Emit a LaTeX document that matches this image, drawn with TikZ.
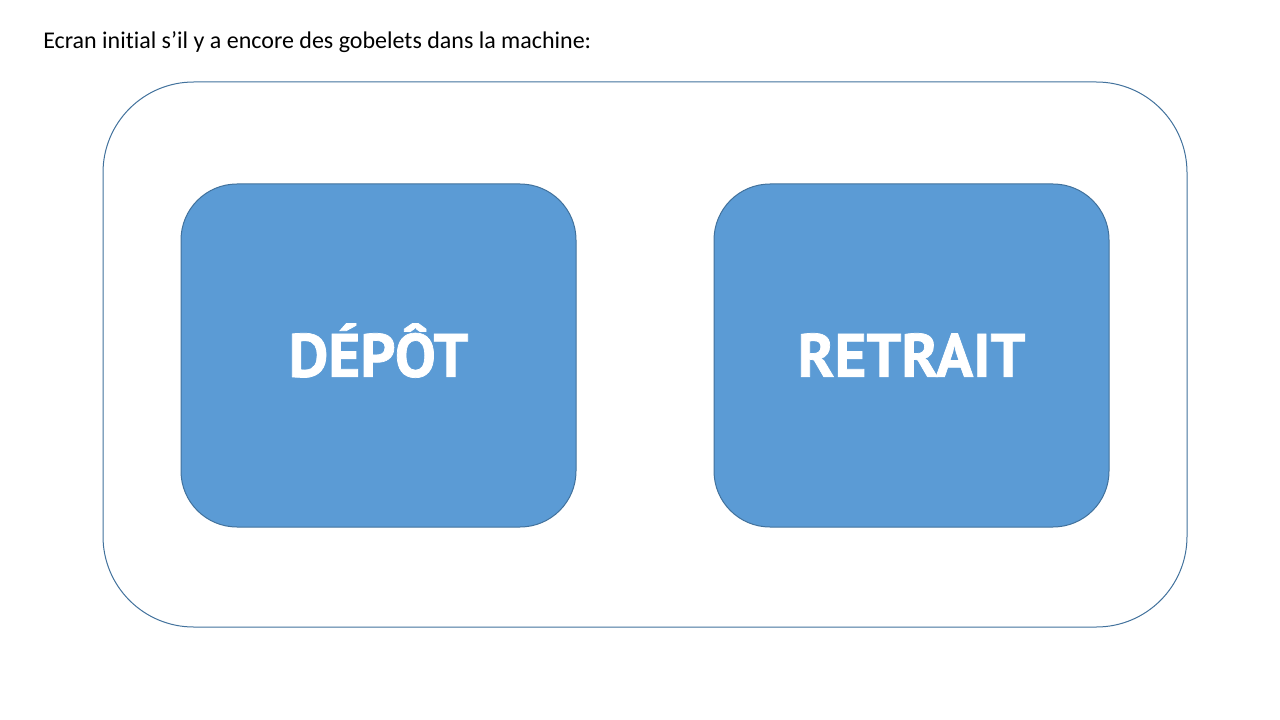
\documentclass[tikz,border=0pt]{standalone}
\usepackage{fontspec}
\setmainfont{Carlito}[Ligatures=NoCommon]
\newfontfamily\btnfont[FakeBold=1.2]{PT Sans}
\definecolor{boxfill}{HTML}{5B9BD5}
\definecolor{boxline}{HTML}{41719C}
\begin{document}
\begin{tikzpicture}[x=0.75pt,y=-0.75pt,
    frame/.style={draw=boxline,line width=0.75pt,rounded corners=68pt,
      minimum width=813pt,minimum height=408.75pt},
    choice/.style={draw=boxline,line width=0.75pt,fill=boxfill,rounded corners=42pt,
      minimum width=296.25pt,minimum height=257.25pt,text height=32pt,text depth=0pt,
      text=white,font=\btnfont\bfseries\fontsize{46}{50}\selectfont}]
    \useasboundingbox (0,0) rectangle (1280,720);

    \node[anchor=base west,font=\fontsize{18}{22}\selectfont,inner sep=0pt] (title) at (43,49)
        {Ecran initial s’il y a encore des gobelets dans la machine:};

    \node[frame] (screen) at (645,354.5) {};
    \node[choice] (depot) at (378.5,355.5) {DÉPÔT};
    \node[choice] (retrait) at (911.5,355.5) {RETRAIT};
\end{tikzpicture}
\end{document}
